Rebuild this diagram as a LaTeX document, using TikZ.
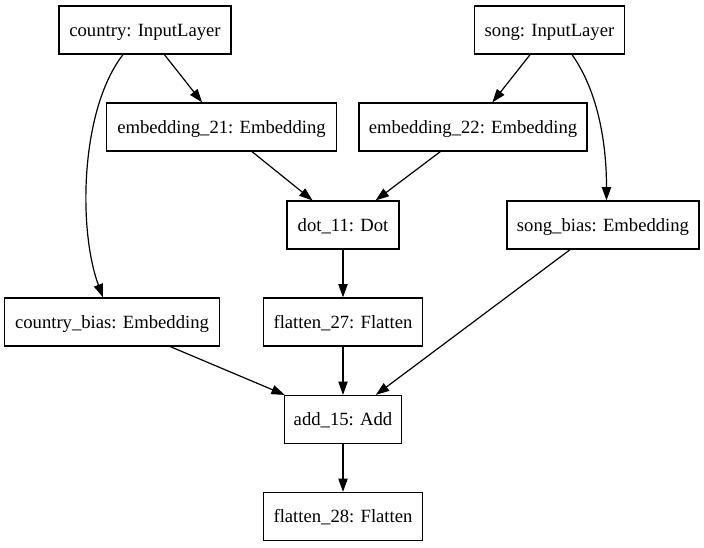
\documentclass[tikz,border=0pt]{standalone}
\usepackage{fontspec}
\setmainfont{Liberation Serif}
\usetikzlibrary{arrows.meta,calc}
\begin{document}
\begin{tikzpicture}[x=0.75pt,y=-0.75pt,
  layer/.style={draw,line width=0.9pt,rectangle,minimum height=36pt,inner sep=2pt,
    text height=12pt,text depth=3pt,
    font=\fontsize{14}{16}\selectfont},
  edge/.style={line width=0.9pt,-{Triangle[length=10pt,width=7pt]}}]
\useasboundingbox (0,0) rectangle (704,547);
\node[layer,minimum width=129pt] (country) at (145,30) {country: InputLayer};
\node[layer,minimum width=113pt] (song) at (549.5,30) {song: InputLayer};
\node[layer,minimum width=172pt] (emb21) at (221.5,127) {embedding\_21: Embedding};
\node[layer,minimum width=171pt] (emb22) at (473,127) {embedding\_22: Embedding};
\node[layer,minimum width=84pt] (dot) at (343,225) {dot\_11: Dot};
\node[layer,minimum width=144pt] (sbias) at (603,225) {song\_bias: Embedding};
\node[layer,minimum width=161pt] (cbias) at (112,322) {country\_bias: Embedding};
\node[layer,minimum width=119pt] (fl27) at (343,322) {flatten\_27: Flatten};
\node[layer,minimum width=88pt] (add) at (343,419.5) {add\_15: Add};
\node[layer,minimum width=119pt] (fl28) at (343,516.5) {flatten\_28: Flatten};

\draw[edge] (country) -- (emb21);
\draw[edge] (song) -- (emb22);
\draw[edge] ($(country.south)+(-22,0)$) .. controls (80,110) and (78,230) .. ($(cbias.north)+(-9,0)$);
\draw[edge] ($(song.south)+(22.5,0)$) .. controls (597,90) and (606.5,140) .. ($(sbias.north)+(3.5,0)$);
\draw[edge] (emb21) -- (dot);
\draw[edge] (emb22) -- (dot);
\draw[edge] (dot) -- (fl27);
\draw[edge] (cbias) -- (add);
\draw[edge] (fl27) -- (add);
\draw[edge] (sbias) -- (add);
\draw[edge] (add) -- (fl28);
\end{tikzpicture}
\end{document}
